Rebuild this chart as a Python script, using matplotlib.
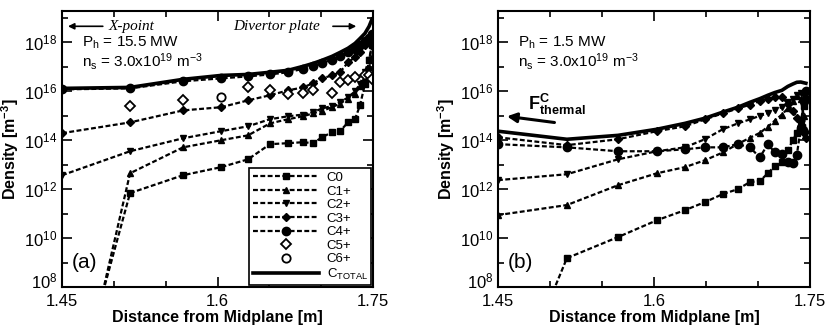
import matplotlib
matplotlib.use('Agg')
import matplotlib.pyplot as plt
import matplotlib.transforms as mtransforms
import numpy as np
from matplotlib.ticker import FixedLocator, NullFormatter

plt.rcParams['font.family'] = ['Liberation Sans', 'DejaVu Sans']
plt.rcParams['mathtext.fontset'] = 'custom'
plt.rcParams['mathtext.rm'] = 'Liberation Sans'
plt.rcParams['mathtext.it'] = 'Liberation Sans:italic'
plt.rcParams['mathtext.bf'] = 'Liberation Sans:bold'

nan = np.nan

# (a) P_h = 15.5 MW  -- distance [m], log10 density [m^-3]
xa = [1.450, 1.4876, 1.5156, 1.5667, 1.6034, 1.6294, 1.6506, 1.6680, 1.6825, 1.6921,
      1.7008, 1.7104, 1.7181, 1.7258, 1.7326, 1.7374, 1.7422, 1.7461, 1.7490]
a_c0 = [nan, 7.5, 11.84, 12.57, 12.90, 13.22, 13.84, 13.88, 13.92, 13.88,
        14.12, 14.33, 14.37, 14.73, 14.86, 15.43, 16.30, 17.30, 17.90]
a_c1 = [nan, 7.5, 12.65, 13.71, 14.00, 14.20, 14.69, 14.86, 14.98, 15.10,
        15.20, 15.35, 15.50, 15.70, 15.90, 16.20, 16.60, 17.00, 17.40]
a_c2 = [12.57, nan, 13.55, 14.08, 14.37, 14.57, 14.86, 14.98, 15.05, 15.15,
        15.30, 15.40, 15.55, 15.75, 16.00, 16.30, 16.80, 17.30, 17.80]
a_c3 = [14.29, nan, 14.73, 15.22, 15.35, 15.63, 15.84, 16.04, 16.16, 16.33,
        16.53, 16.65, 16.78, 17.18, 17.40, 17.60, 17.90, 18.08, 18.20]
a_c4 = [16.08, nan, 16.12, 16.41, 16.53, 16.61, 16.69, 16.78, 16.92, 17.02,
        17.15, 17.30, 17.45, 17.60, 17.75, 17.90, 18.05, 18.20, 18.35]
a_c5 = [nan, nan, 15.39, 15.63, nan, 16.16, 16.05, 15.90, 15.92, 16.04,
        nan, 15.92, 16.37, 16.45, 16.57, nan, 16.65, 16.65, 16.50]
a_c6 = [nan, nan, nan, nan, 15.78, nan, nan, nan, nan, nan,
        nan, nan, nan, nan, nan, nan, nan, nan, nan]
a_tot = [16.12, nan, 16.16, 16.49, 16.65, 16.69, 16.78, 16.86, 17.02, 17.14,
         17.27, 17.43, 17.59, 17.76, 17.96, 18.16, 18.37, 18.65, 18.95]

# (b) P_h = 1.5 MW
xb = [1.450, 1.5029, 1.5163, 1.5654, 1.6029, 1.6298, 1.6490, 1.6663, 1.6808, 1.6923,
      1.7019, 1.7096, 1.7163, 1.7231, 1.7288, 1.7337, 1.7375, 1.7413, 1.7442, 1.7462]
b_c0 = [nan, 7.8, 9.18, 10.04, 10.73, 11.14, 11.47, 11.80, 12.00, 12.29,
        12.33, 12.65, 12.94, 13.10, 13.60, 14.00, 14.30, 14.80, 15.40, 15.70]
b_c1 = [10.94, nan, 11.35, 12.16, 12.65, 12.90, 13.18, 13.50, 13.85, 14.10,
        14.30, 14.55, 14.80, 15.05, 15.30, 15.60, 15.80, 15.70, 15.00, 14.40]
b_c2 = [12.37, nan, 12.61, 13.22, 13.55, 13.71, 14.04, 14.45, 14.69, 14.85,
        15.00, 15.10, 15.25, 15.35, 15.55, 15.70, 15.85, 15.92, 15.80, 15.60]
b_c3 = [14.12, nan, 13.80, 14.04, 14.37, 14.57, 14.85, 15.10, 15.30, 15.45,
        15.60, 15.70, 15.75, 15.75, 15.50, 15.20, 14.90, 14.60, 14.30, 14.10]
b_c4 = [13.84, nan, 13.71, 13.55, 13.55, 13.63, 13.71, 13.71, 13.84, 13.71,
        13.30, 13.84, 13.50, 13.45, 13.10, 13.05, 13.40, 14.50, 15.60, 16.00]
b_tot = [14.37, nan, 14.04, 14.20, 14.45, 14.69, 14.90, 15.15, 15.35, 15.55,
         15.70, 15.84, 15.95, 16.04, 16.20, 16.30, 16.37, 16.38, 16.35, 16.33]

labels = ['C0', 'C1+', 'C2+', 'C3+', 'C4+', 'C5+', 'C6+', r'C$_{\mathrm{TOTAL}}$']
dash = (0, (2.2, 1.1))
styles = [
    dict(marker='s', ms=4, ls=dash),
    dict(marker='^', ms=5, ls=dash),
    dict(marker='v', ms=5, ls=dash),
    dict(marker='D', ms=4, ls=dash),
    dict(marker='o', ms=6, ls=dash),
    dict(marker='D', ms=5, ls='none', mfc='white', mew=1.3),
    dict(marker='o', ms=6, ls='none', mfc='white', mew=1.3),
    dict(marker=None, ls='-', lw=2.6),
]


def draw(ax, x, series):
    x = np.array(x)
    handles = []
    for vals, st in zip(series, styles):
        v = np.array(vals, dtype=float)
        m = np.isfinite(v)
        kw = dict(color='black', lw=1.6)
        kw.update(st)
        h, = ax.plot(x[m], 10 ** v[m], **kw)
        handles.append(h)
    return handles


def style_axes(ax):
    ax.set_yscale('log')
    ax.set_xlim(1.45, 1.75)
    ax.set_ylim(1e8, 1.9e19)
    ax.xaxis.set_major_locator(FixedLocator([1.45, 1.6, 1.75]))
    ax.xaxis.set_minor_locator(FixedLocator([1.5, 1.55, 1.65, 1.7]))
    ax.set_xticklabels(['1.45', '1.6', '1.75'])
    ax.yaxis.set_major_locator(FixedLocator([1e8, 1e10, 1e12, 1e14, 1e16, 1e18]))
    ax.yaxis.set_minor_locator(FixedLocator([1e9, 1e11, 1e13, 1e15, 1e17, 1e19]))
    ax.yaxis.set_minor_formatter(NullFormatter())
    ax.tick_params(which='both', direction='in', top=True, right=True, labelsize=12, width=1.2)
    ax.tick_params(which='major', length=7)
    ax.tick_params(which='minor', length=4)
    ax.tick_params(axis='x', pad=5)
    for s in ax.spines.values():
        s.set_linewidth(1.5)
    ax.set_xlabel('Distance from Midplane [m]', fontsize=11.5, fontweight='bold', labelpad=1)
    ax.set_ylabel('Density [m$^{\\mathbf{-3}}$]', fontsize=11.5, fontweight='bold', labelpad=2)


fig = plt.figure(figsize=(8.25, 3.32), dpi=100)
ax1 = fig.add_axes([0.0752, 0.1355, 0.377, 0.831])
ax2 = fig.add_axes([0.6036, 0.1355, 0.378, 0.831])

hs = draw(ax1, xa, [a_c0, a_c1, a_c2, a_c3, a_c4, a_c5, a_c6, a_tot])
draw(ax2, xb, [b_c0, b_c1, b_c2, b_c3, b_c4, [nan] * len(xb), [nan] * len(xb), b_tot])
style_axes(ax1)
style_axes(ax2)

# nudge the bottom "10^8" label up a little so it clears the 1.45 label
fig.canvas.draw()
lift = mtransforms.ScaledTranslation(0, 5 / 72, fig.dpi_scale_trans)
for ax in (ax1, ax2):
    lab = ax.get_yticklabels()[0]
    lab.set_transform(lab.get_transform() + lift)

leg = ax1.legend(hs, labels, loc='lower right', fontsize=9.5, handlelength=5.0,
                 labelspacing=0.1, borderaxespad=0.15, fancybox=False,
                 framealpha=1, edgecolor='black', borderpad=0.25, handletextpad=0.6)
leg.get_frame().set_linewidth(1.2)

# panel (a) annotations
ax1.text(0.065, 0.87, r'P$_{\mathrm{h}}$ = 15.5 MW', transform=ax1.transAxes, fontsize=11)
ax1.text(0.065, 0.80, r'n$_{\mathrm{s}}$ = 3.0x10$^{19}$ m$^{-3}$', transform=ax1.transAxes, fontsize=11)
ax1.text(0.03, 0.07, '(a)', transform=ax1.transAxes, fontsize=15)
ax1.annotate('', xy=(0.01, 0.945), xytext=(0.14, 0.945), xycoords='axes fraction',
             arrowprops=dict(arrowstyle='-|>', color='black', lw=1.2, mutation_scale=9))
ax1.text(0.148, 0.945, 'X-point', transform=ax1.transAxes, fontsize=11, va='center',
         family='Liberation Serif', style='italic')
ax1.text(0.55, 0.945, 'Divertor plate', transform=ax1.transAxes, fontsize=11, va='center',
         family='Liberation Serif', style='italic')
ax1.annotate('', xy=(0.955, 0.945), xytext=(0.862, 0.945), xycoords='axes fraction',
             arrowprops=dict(arrowstyle='-|>', color='black', lw=1.2, mutation_scale=9))

# panel (b) annotations
ax2.text(0.065, 0.87, r'P$_{\mathrm{h}}$ = 1.5 MW', transform=ax2.transAxes, fontsize=11)
ax2.text(0.065, 0.80, r'n$_{\mathrm{s}}$ = 3.0x10$^{19}$ m$^{-3}$', transform=ax2.transAxes, fontsize=11)
ax2.text(0.03, 0.07, '(b)', transform=ax2.transAxes, fontsize=15)
ax2.text(0.095, 0.64, r'$\mathbf{F}^{\mathbf{C}}_{\mathbf{thermal}}$', transform=ax2.transAxes, fontsize=13)
ax2.annotate('', xy=(0.02, 0.62), xytext=(0.19, 0.595), xycoords='axes fraction',
             arrowprops=dict(arrowstyle='-|>', color='black', lw=2.2, mutation_scale=14))

fig.savefig('out.png', dpi=100)
